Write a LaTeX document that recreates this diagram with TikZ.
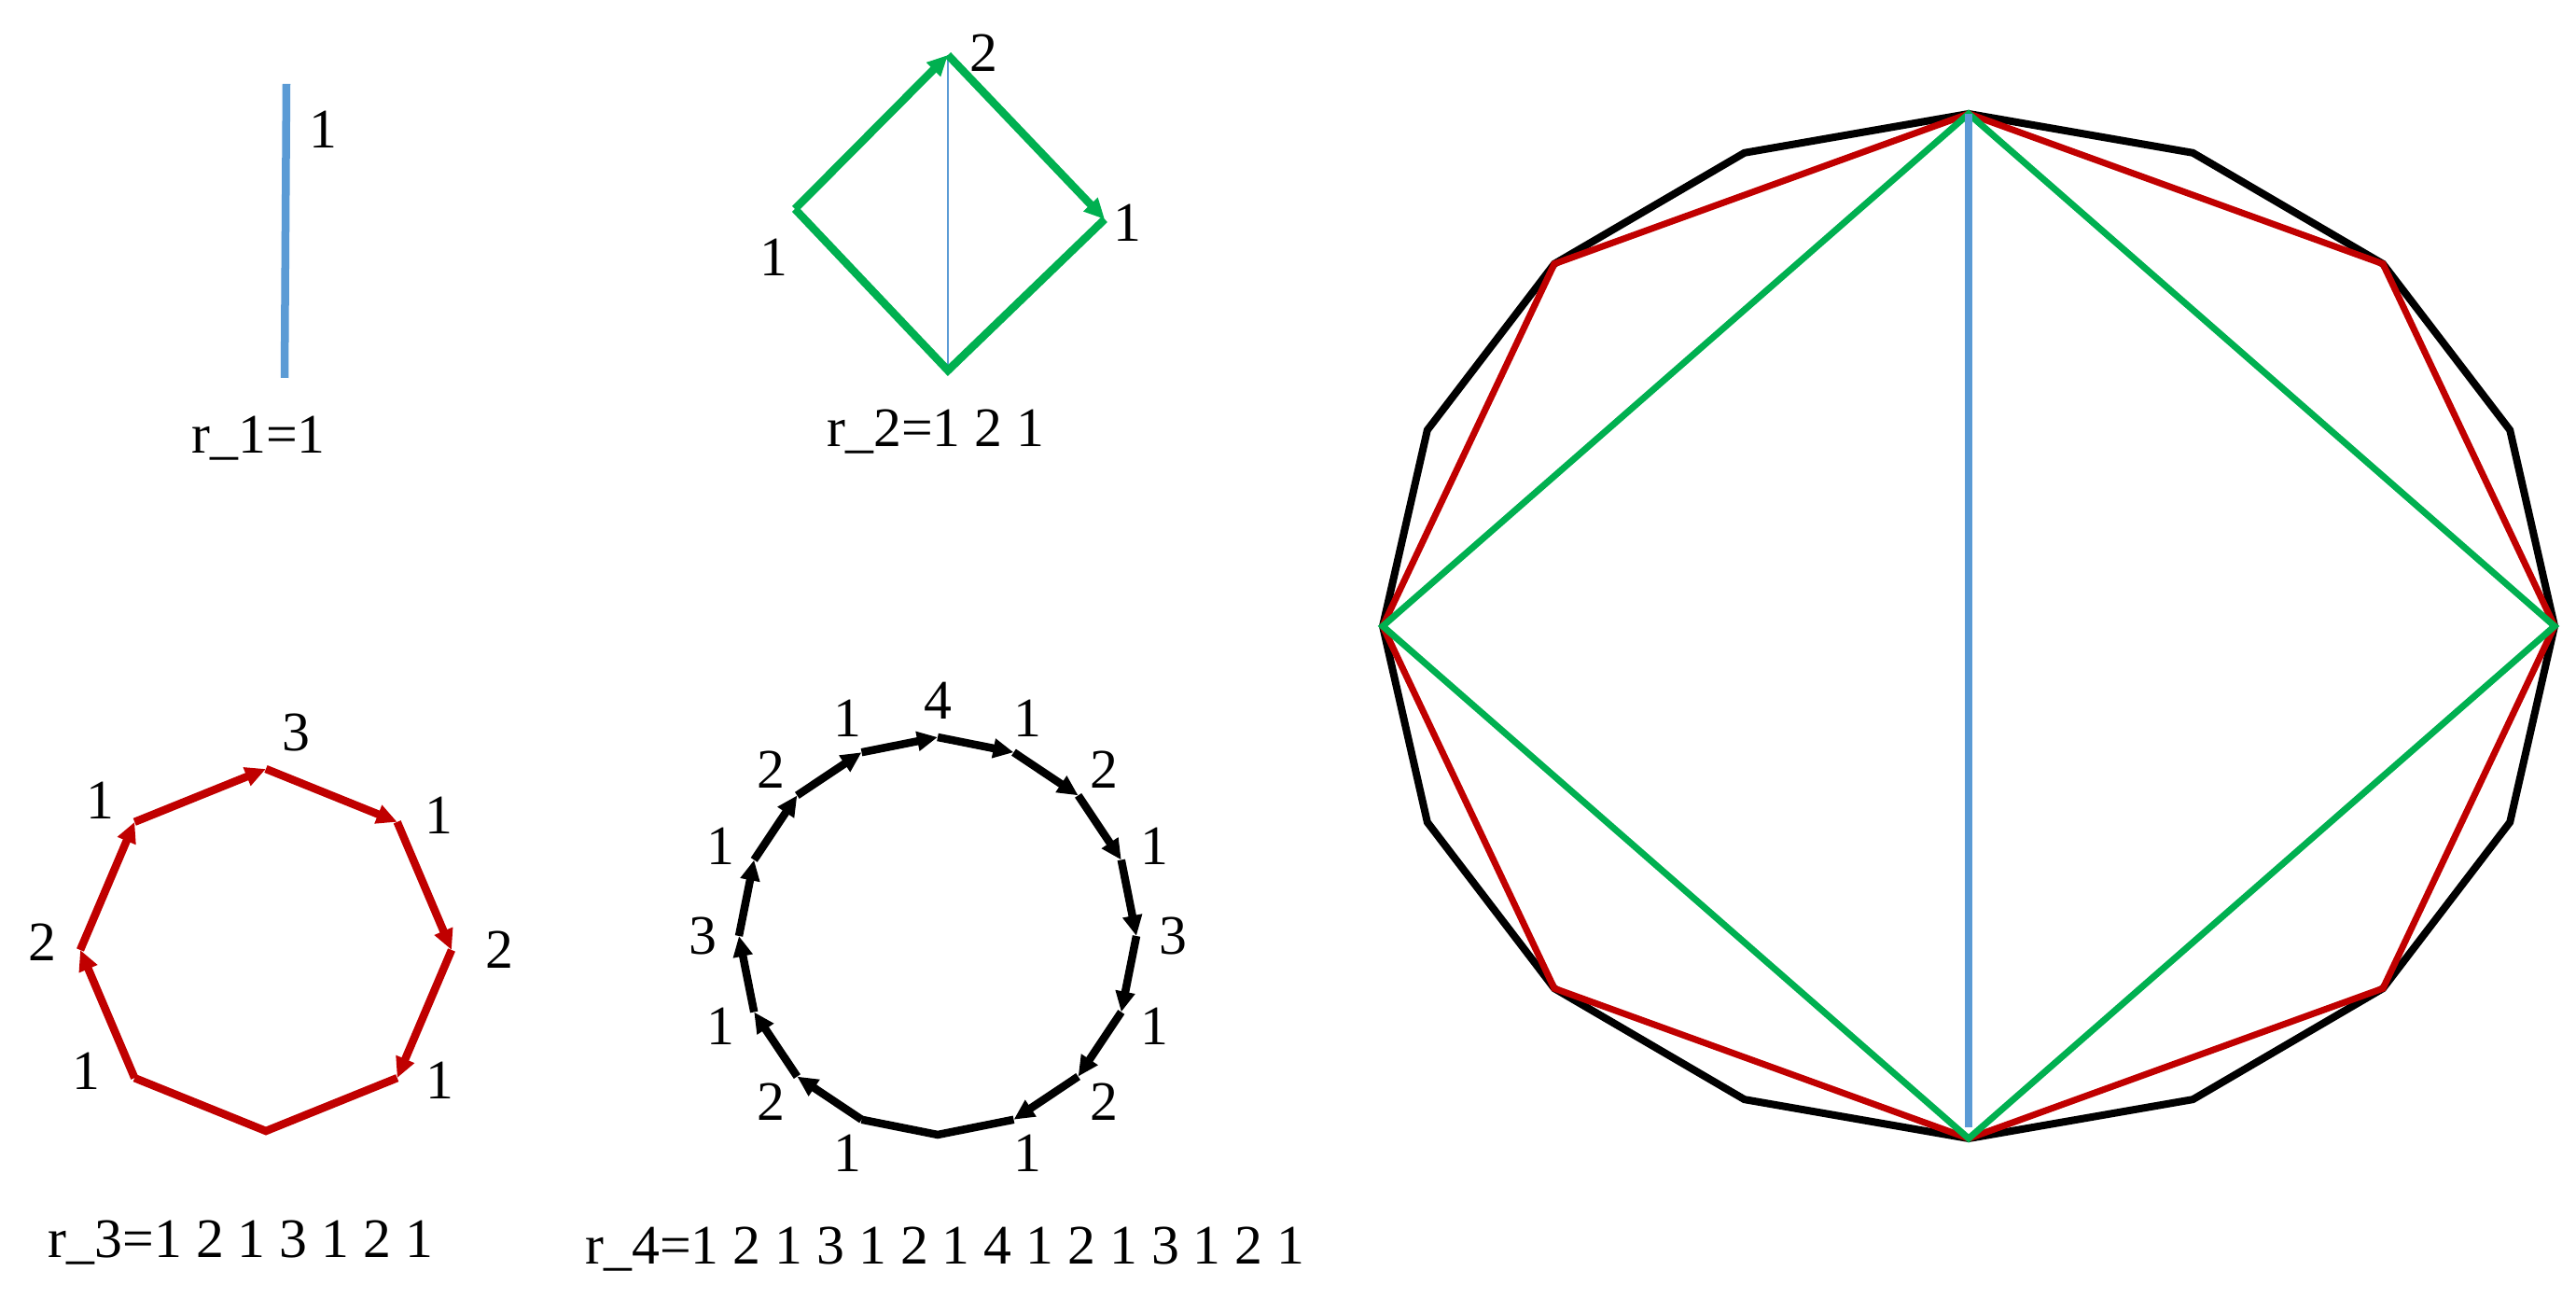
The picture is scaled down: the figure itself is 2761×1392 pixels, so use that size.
\documentclass[tikz,border=0pt]{standalone}
\usepackage{fontspec}
\setmainfont{Liberation Serif}
\usetikzlibrary{arrows.meta,chains,scopes}
\definecolor{lineblue}{RGB}{91,155,213}
\definecolor{linegreen}{RGB}{0,176,80}
\definecolor{linered}{RGB}{192,0,0}
\tikzset{>={Triangle[length=0.22cm,width=0.2cm]},
	every join/.style={->}}
\tikzstyle{num}=[inner sep=0pt, font=\fontsize{17}{20}\selectfont]
\tikzstyle{caption}=[num, anchor=base]
\tikzstyle{thick edge}=[line width=0.085cm]
\tikzstyle{thin edge}=[line width=0.07cm]
\newcommand{\rseq}[2]{r\_#1=#2}

\begin{document}
\begin{tikzpicture}[x=0.01cm, y=0.01cm]
	\useasboundingbox (0,0) rectangle (2761,1392);
	% r_1
	\coordinate (v-top) at (307,1302);
	\coordinate (v-bot) at (305,987);
	\draw[lineblue, thick edge] (v-top) -- (v-bot);
	\node[num] (v-lab) at (346,1253) {1};
	\node[caption] (r1) at (277,906) {\rseq{1}{1}};
	% r_2
	\coordinate (d-l) at (852,1168);
	\coordinate (d-t) at (1016,1333);
	\coordinate (d-r) at (1184,1157);
	\coordinate (d-b) at (1016,995);
	\draw[lineblue, line width=0.015cm] (d-t) -- (d-b);
	\draw[linegreen, thick edge] (d-r) -- (d-b) -- (d-l);
	{ [start chain, linegreen, thick edge]
		\chainin (d-l);
		\chainin (d-t) [join];
		\chainin (d-r) [join];
	}
	\node[num] (d-lab-l) at (829,1116) {1};
	\node[num] (d-lab-t) at (1054,1335) {2};
	\node[num] (d-lab-r) at (1208,1153) {1};
	\node[caption] (r2) at (1003,913) {\rseq{2}{1 2 1}};
	% r_3
	\coordinate (oct) at (285,374);
	\foreach \k in {0,...,7}
		\coordinate (o\k) at ([shift={(oct)}]{90-45*\k}:199 and 194);
	\draw[linered, thick edge] (o3) -- (o4) -- (o5);
	{ [start chain, linered, thick edge]
		\chainin (o5);
		\foreach \k in {6,7,0,1,2,3}
			{\chainin (o\k) [join];}
	}
	\foreach \a/\r/\t [count=\i] in {82/235/3, 38/235/1, 0/250/2, -37/233/1, -146/232/1, 178/240/2, 138/239/1}
		\node[num] (o-lab\i) at ([shift={(oct)}]\a:\r) {\t};
	\node[caption] (r3) at (258,44) {\rseq{3}{1 2 1 3 1 2 1}};
	% r_4
	\coordinate (hex) at (1005,389);
	\foreach \k in {0,...,15}
		\coordinate (s\k) at ([shift={(hex)}]{90-22.5*\k}:213);
	\draw[thick edge] (s7) -- (s8) -- (s9);
	{ [start chain, thick edge]
		\chainin (s9);
		\foreach \k in {10,11,12,13,14,15,0,1,2,3,4,5,6,7}
			{\chainin (s\k) [join];}
	}
	\foreach \k/\t in {9/1,10/2,11/1,12/3,13/1,14/2,15/1,0/4,1/1,2/2,3/1,4/3,5/1,6/2,7/1}
		\node[num] (s-lab\k) at ([shift={(hex)}]{90-22.5*\k}:252) {\t};
	\node[caption] (r4) at (1013,37) {\rseq{4}{1 2 1 3 1 2 1 4 1 2 1 3 1 2 1}};
	% all four on one circle
	\coordinate (big) at (2110,721);
	\foreach \k in {0,...,15}
		\coordinate (b\k) at ([shift={(big)}]{90-22.5*\k}:628 and 549);
	\draw[thin edge, line width=0.08cm] (b0) \foreach \k in {1,...,15}{-- (b\k)} -- cycle;
	\draw[linered, thin edge] (b0) \foreach \k in {2,4,...,14}{-- (b\k)} -- cycle;
	\draw[linegreen, thin edge] (b0) -- (b4) -- (b8) -- (b12) -- cycle;
	\draw[lineblue, line width=0.08cm, shorten >=0.12cm] (b0) -- (b8);
\end{tikzpicture}
\end{document}
